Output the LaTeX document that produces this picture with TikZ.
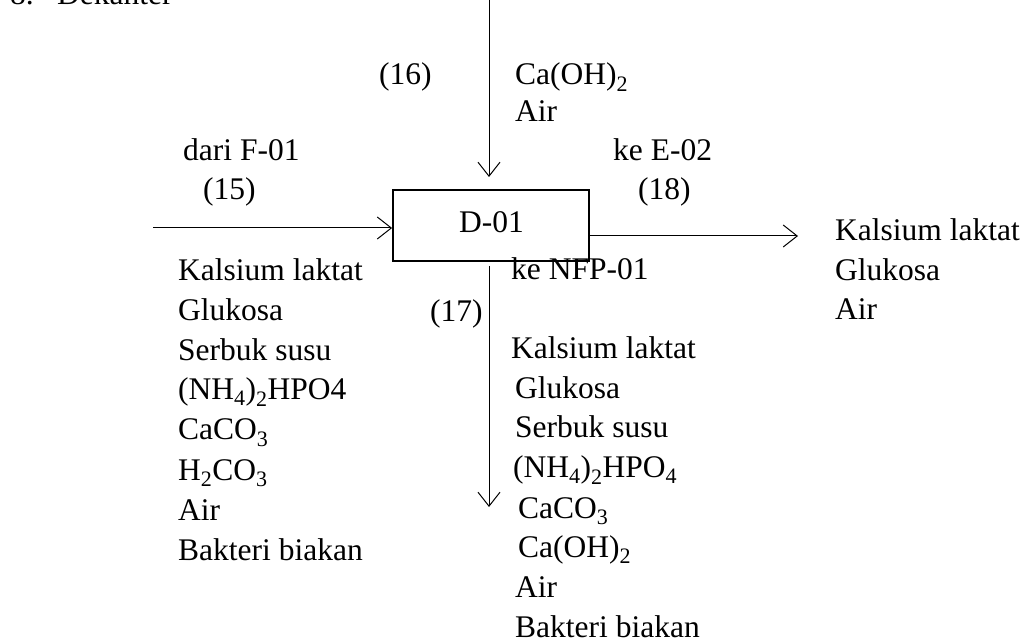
\documentclass[tikz,border=0pt]{standalone}
\usepackage{fontspec}
\setmainfont{Liberation Serif}
\usetikzlibrary{arrows.meta}
\tikzset{
  txt/.style={inner sep=0pt, anchor=base west, font=\fontsize{31.5}{38}\selectfont},
  flow/.style={line width=1pt, -{Straight Barb[length=14pt,width=22pt,line width=1pt]}},
  unitbox/.style={draw, line width=1.8pt, minimum width=196pt, minimum height=71pt, inner sep=0pt}
}
\newcommand{\sbs}[1]{\textsubscript{#1}}
\begin{document}
\begin{tikzpicture}[x=1pt,y=-1pt]
\useasboundingbox (0,0) rectangle (1029,644);
% title
\node[txt] (num) at (10,5) {8.};
\node[txt] (title) at (57,5) {Dekanter};
% unit
\node[unitbox] (d01) at (491,225.5) {};
\node[txt] (d01lbl) at (459,233) {D-01};
% coordinates for free ends
\coordinate (top16) at (489,0);
\coordinate (end16) at (489,177);
\coordinate (in15) at (153,228);
\coordinate (out18) at (798,236);
\coordinate (start17) at (489,266);
\coordinate (end17) at (489,507);
% connectors
\draw[flow] (top16) -- (end16);
\draw[flow] (in15) -- (in15 -| d01.west);
\draw[flow] (out18 -| d01.east) -- (out18);
\draw[line width=1pt, -{Straight Barb[length=14pt,width=22pt,line width=1pt]}] (start17) -- (end17);
% stream 16
\node[txt] (s16) at (379,85) {(16)};
\node[txt] (s16a) at (515,85) {Ca(OH)\sbs{2}};
\node[txt] (s16b) at (515,122) {Air};
% stream 15
\node[txt] (s15from) at (183,161) {dari F-01};
\node[txt] (s15) at (203,200) {(15)};
\node[txt] (l1) at (178,281) {Kalsium laktat};
\node[txt] (l2) at (178,321) {Glukosa};
\node[txt] (l3) at (178,361) {Serbuk susu};
\node[txt] (l4) at (178,400) {(NH\sbs{4})\sbs{2}HPO4};
\node[txt] (l5) at (178,440) {CaCO\sbs{3}};
\node[txt] (l6) at (178,480) {H\sbs{2}CO\sbs{3}};
\node[txt] (l7) at (178,520) {Air};
\node[txt] (l8) at (178,560) {Bakteri biakan};
% stream 18
\node[txt] (s18to) at (613,161) {ke E-02};
\node[txt] (s18) at (638,200) {(18)};
\node[txt] (r1) at (835,241) {Kalsium laktat};
\node[txt] (r2) at (835,281) {Glukosa};
\node[txt] (r3) at (835,320) {Air};
% stream 17
\node[txt] (s17to) at (511,280) {ke NFP-01};
\node[txt] (s17) at (430,322) {(17)};
\node[txt] (m1) at (511,359) {Kalsium laktat};
\node[txt] (m2) at (515,399) {Glukosa};
\node[txt] (m3) at (515,438) {Serbuk susu};
\node[txt] (m4) at (513,478) {(NH\sbs{4})\sbs{2}HPO\sbs{4}};
\node[txt] (m5) at (518,518) {CaCO\sbs{3}};
\node[txt] (m6) at (518,557) {Ca(OH)\sbs{2}};
\node[txt] (m7) at (515,597) {Air};
\node[txt] (m8) at (515,637) {Bakteri biakan};
\end{tikzpicture}
\end{document}
